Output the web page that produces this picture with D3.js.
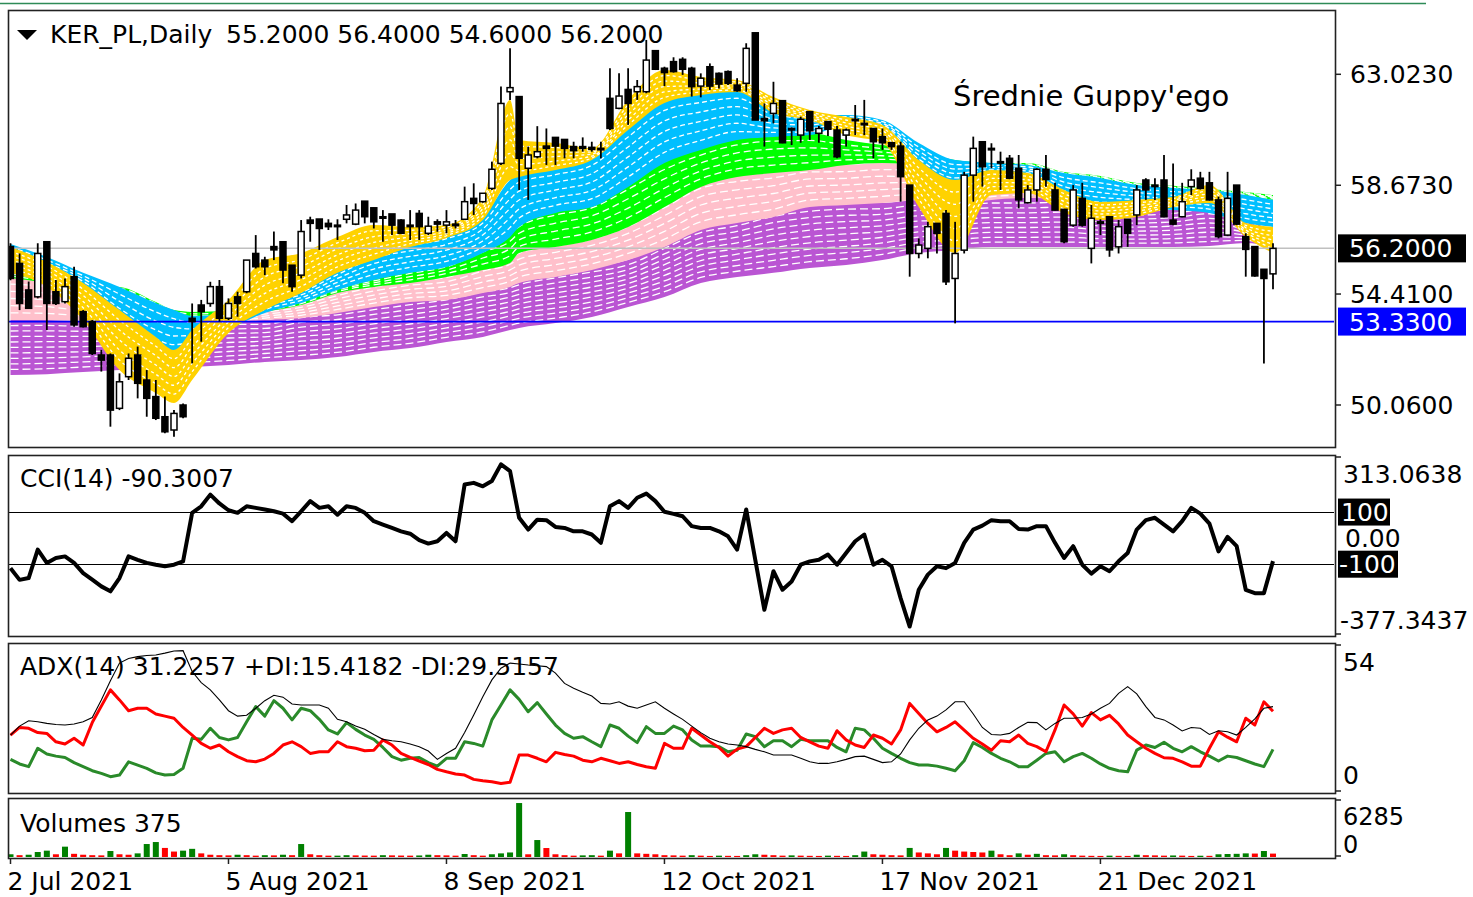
<!DOCTYPE html>
<html lang="en">
<head>
<meta charset="UTF-8">
<title>KER_PL Daily - Srednie Guppy'ego</title>
<script src="https://d3js.org/d3.v7.min.js"></script>
<style>
  body { margin: 0; background: #fff; }
  svg text { font-family: "DejaVu Sans", "Liberation Sans", Arial, sans-serif; fill: #000; }
</style>
</head>
<body>
<div class="chart"></div>
<script>
// ---- data (one entry per daily bar) ----
var open = [56.27,55.61,54.57,54.30,56.46,54.50,54.11,55.09,53.72,53.33,
  52.02,52.02,49.93,51.17,52.02,51.04,50.39,49.60,49.08,50.06,
  53.46,53.98,54.04,54.70,53.46,54.30,54.50,56.00,55.74,56.27,
  56.46,55.54,55.15,57.31,57.35,57.18,57.11,57.34,57.15,58.05,
  57.79,57.44,57.55,57.31,57.11,57.57,56.79,57.24,57.11,57.15,
  57.34,58.16,58.03,58.55,59.53,62.34,62.15,59.34,59.79,60.21,
  60.55,60.47,60.19,60.19,60.16,60.12,62.08,61.69,62.43,62.34,
  62.34,63.95,63.26,63.52,63.61,63.26,62.56,63.32,63.06,63.13,
  62.60,62.67,64.65,61.29,61.49,61.99,60.90,60.64,61.56,60.71,
  61.17,60.84,60.64,61.26,61.10,60.90,60.58,60.34,60.21,58.68,
  56.00,56.20,57.18,57.57,55.02,56.13,59.07,60.38,60.12,59.60,
  59.73,59.34,57.99,58.49,59.30,58.49,57.73,57.11,58.16,56.20,
  57.24,57.44,56.26,57.34,57.51,58.88,58.68,58.88,57.31,57.44,
  58.62,58.95,58.77,58.10,56.72,58.68,56.66,56.27,55.38,55.20];
var high = [56.40,56.00,54.90,56.40,56.46,54.96,55.02,55.48,53.78,53.39,
  52.22,52.08,51.30,52.08,52.35,51.43,51.04,50.39,49.86,50.12,
  54.04,54.18,54.89,54.96,54.24,54.50,55.74,56.72,55.87,56.86,
  56.46,55.54,57.31,57.44,57.35,57.34,57.34,57.90,57.96,58.05,
  57.79,57.70,57.55,57.34,57.70,57.70,57.44,57.34,57.70,57.31,
  58.62,58.75,58.36,59.60,62.54,64.04,62.15,60.19,60.99,60.90,
  60.55,60.47,60.38,60.55,60.38,60.38,63.26,63.06,63.26,62.80,
  64.37,63.95,63.32,63.69,63.69,63.32,63.06,63.45,63.09,63.17,
  62.87,64.24,64.65,61.88,62.73,61.99,60.94,61.36,61.56,61.00,
  61.17,61.00,60.90,61.82,62.02,60.90,60.90,60.38,60.38,58.68,
  56.59,57.24,57.18,57.70,57.24,59.20,60.58,60.38,60.32,59.99,
  59.86,59.86,58.68,59.34,59.86,58.77,57.73,58.68,58.77,57.90,
  57.34,57.44,57.31,57.34,58.68,58.95,58.95,59.86,59.53,58.77,
  59.30,59.20,59.20,58.23,59.20,58.68,56.79,56.27,55.38,56.40];
var low = [54.95,53.78,53.85,54.24,53.00,53.98,54.04,53.13,53.10,52.02,
  51.37,49.21,49.86,51.04,50.32,49.60,49.47,48.95,48.82,49.54,
  51.69,52.54,53.91,53.33,53.39,53.52,54.44,55.41,55.15,55.74,
  54.83,54.50,55.02,56.46,56.14,56.92,56.53,57.18,57.11,57.18,
  56.98,56.46,56.72,56.76,56.53,56.53,56.72,56.85,56.79,56.98,
  57.31,57.51,57.99,58.49,59.47,62.02,58.49,58.10,59.73,59.47,
  59.47,59.73,59.73,59.99,59.99,59.73,60.84,61.65,61.04,62.02,
  62.28,63.19,62.56,63.09,63.00,62.15,62.12,62.41,62.47,62.60,
  62.34,62.34,61.23,60.19,61.10,60.32,60.25,60.34,60.45,60.34,
  60.60,59.73,60.19,60.64,60.64,59.73,60.06,60.06,58.03,55.09,
  55.81,55.81,56.00,54.76,53.26,56.00,58.03,58.62,59.34,58.49,
  58.91,57.77,57.96,58.03,58.62,57.68,56.40,57.05,57.05,55.61,
  56.72,55.87,56.00,56.26,57.11,58.10,58.10,57.42,57.11,57.42,
  58.29,58.51,58.07,56.59,56.68,57.11,55.09,55.09,51.69,54.60];
var close = [55.02,54.04,53.85,56.00,54.04,54.04,54.70,53.20,53.13,52.08,
  51.82,49.86,50.97,51.89,50.91,50.32,49.54,49.01,49.73,49.60,
  53.33,53.72,54.70,53.46,54.04,54.04,55.74,55.48,55.48,56.14,
  55.35,54.70,56.86,57.18,56.98,57.05,57.05,57.51,57.70,57.44,
  57.24,57.38,57.11,56.79,57.05,57.05,57.07,57.15,57.24,57.11,
  58.03,57.96,58.36,59.30,61.88,62.50,59.73,59.86,59.99,60.12,
  60.21,60.12,60.03,60.12,60.08,60.06,60.90,62.17,61.88,62.54,
  63.58,63.22,63.09,63.13,63.22,62.54,62.87,62.56,62.64,62.67,
  62.38,64.04,61.23,61.20,61.88,60.34,60.84,61.26,60.81,60.90,
  60.87,59.79,60.84,61.23,61.07,60.38,60.34,60.19,59.01,56.00,
  56.33,57.05,56.79,54.89,56.00,59.07,60.12,59.40,60.08,59.56,
  58.95,58.10,58.49,59.30,58.90,57.70,56.46,58.49,57.11,57.38,
  57.18,56.14,57.05,56.79,58.49,58.49,58.64,57.44,57.15,58.03,
  58.88,58.55,58.10,56.66,58.16,57.15,56.16,55.12,55.02,56.20];
var volume = [300,200,250,550,700,300,1140,350,250,200,
  180,660,300,250,400,1430,1650,1000,600,700,
  900,400,250,200,180,250,200,150,200,180,
  250,200,1430,300,200,150,150,200,180,160,
  150,200,180,160,150,170,250,200,180,150,
  330,200,150,300,400,500,5950,300,1870,990,
  300,200,150,180,200,150,700,400,4960,400,
  350,300,200,180,150,200,150,120,150,130,
  120,200,300,250,200,150,180,150,130,120,
  150,130,120,200,600,300,250,200,180,1000,
  500,400,300,1000,700,600,550,500,700,300,
  200,400,250,350,200,180,300,200,150,130,
  120,150,130,120,250,200,180,150,170,150,
  120,140,130,300,330,350,400,380,660,375];
var cci = [-117,-162,-155,-46,-97,-78,-72,-97,-136,-161,
  -187,-206,-155,-72,-85,-97,-104,-110,-104,-91,
  95,120,165,131,105,95,120,114,108,101,
  92,63,101,140,114,120,88,120,114,95,
  63,50,37,24,15,-10,-23,-14,18,-14,
  204,210,197,217,281,255,76,31,69,67,
  41,37,24,24,12,-20,120,140,114,153,
  169,140,99,91,82,44,37,37,24,5,
  -46,108,-85,-277,-129,-200,-168,-104,-91,-85,
  -65,-104,-59,-14,12,-104,-85,-110,-232,-341,
  -200,-142,-110,-117,-97,-20,31,46,67,63,
  63,33,31,44,44,-20,-78,-33,-104,-138,
  -110,-129,-91,-59,31,67,76,50,24,63,
  114,92,54,-53,3,-33,-200,-213,-213,-90];
var adx = [20.7,24.0,26.0,25.6,25.0,24.6,24.4,24.8,25.6,27.2,
  33.7,40.8,47.3,49.0,49.7,50.1,50.3,51.0,51.8,51.9,
  44.2,40.1,37.4,33.7,29.7,27.7,28.0,30.6,33.4,35.4,
  34.7,32.2,31.8,31.8,31.8,30.6,26.5,25.6,24.0,22.8,
  20.9,19.1,18.6,18.2,17.4,16.4,14.8,11.7,13.9,15.8,
  21.6,28.1,34.9,41.1,45.4,47.3,47.0,46.6,46.3,46.0,
  43.6,39.8,38.0,36.5,35.1,32.4,32.2,33.0,31.4,30.6,
  31.8,33.0,30.6,28.5,26.5,24.0,21.6,19.5,18.2,17.4,
  17.0,16.4,15.4,14.5,13.3,13.3,13.3,12.1,10.8,10.2,
  10.2,10.8,11.7,12.7,12.9,11.7,10.5,10.8,13.7,18.9,
  23.2,26.3,27.7,30.0,33.0,33.0,28.5,23.5,20.9,20.7,
  21.3,23.5,25.4,25.3,22.6,25.0,26.9,26.9,27.2,28.5,
  30.6,32.4,36.1,38.6,35.9,31.2,27.2,26.3,24.4,22.2,
  23.5,23.2,20.9,22.3,21.9,20.7,23.5,26.7,30.6,31.2];
var plusDI = [11.7,10.0,9.0,15.8,13.7,12.9,12.4,10.5,9.0,7.5,
  6.5,5.3,5.9,10.8,9.6,8.4,6.7,5.9,6.1,8.4,
  19.5,19.1,23.2,19.8,18.9,19.8,25.6,31.2,27.7,33.4,
  30.6,26.3,30.6,29.7,26.5,22.6,21.1,25.3,22.8,20.7,
  19.1,16.1,12.7,11.4,12.1,12.4,10.5,9.2,12.1,12.1,
  18.2,17.6,16.6,26.3,31.8,37.4,33.9,29.3,32.7,28.5,
  24.4,21.3,19.5,20.1,18.2,16.4,24.4,23.2,20.3,17.9,
  23.8,21.3,21.3,24.0,22.6,18.9,16.6,16.6,16.4,14.5,
  15.1,21.1,20.1,16.4,18.6,18.6,16.4,19.1,18.6,18.6,
  18.6,16.1,14.5,23.2,22.6,19.5,15.8,13.9,12.1,10.5,
  9.6,9.6,9.2,8.4,7.5,11.2,17.9,16.1,13.9,12.1,
  10.8,9.0,9.0,11.4,13.9,14.5,10.8,12.7,13.9,12.1,
  10.0,8.4,7.5,7.1,15.1,17.0,16.1,18.0,15.8,14.5,
  16.4,14.5,12.9,11.1,12.9,12.4,11.2,10.0,9.0,15.4];
var minusDI = [20.7,23.5,23.2,21.6,21.3,18.2,17.4,19.5,17.0,25.3,
  31.4,37.4,33.7,29.7,30.6,30.6,28.5,27.7,26.9,23.5,
  20.7,17.6,15.8,17.0,14.5,12.7,11.2,10.8,11.8,13.9,
  17.0,18.2,16.4,13.9,14.5,14.5,18.2,16.4,15.8,14.9,
  15.1,18.9,17.0,13.9,12.4,11.1,9.8,8.0,7.1,6.3,
  5.9,4.3,3.8,3.4,2.8,3.2,13.3,13.3,12.1,10.8,
  14.3,13.5,12.9,11.4,10.8,12.1,11.2,10.2,10.8,9.8,
  9.0,8.4,17.6,15.8,15.8,23.2,20.7,18.2,16.1,12.9,
  15.5,16.4,19.8,23.2,21.3,22.6,23.2,19.8,18.2,16.6,
  15.8,22.3,18.9,17.0,16.1,20.7,19.5,17.4,22.6,32.4,
  28.7,25.0,21.9,23.5,25.6,22.5,19.5,17.4,15.1,18.6,
  18.2,20.7,17.6,16.4,14.5,22.6,31.8,28.5,24.0,29.0,
  26.3,28.0,24.8,20.7,18.2,15.8,13.9,12.3,12.1,10.8,
  9.2,9.2,15.8,21.9,19.9,18.2,26.9,24.4,33.0,29.5];

// Guppy ribbon: upper / lower edge of each colour group at sampled bars
var gIdx = [0,4,8,12,16,18,20,24,28,32,36,40,44,48,52,55,56,60,64,68,72,76,80,84,88,92,96,100,104,108,112,116,120,124,128,132,136,139];
var yellowHi = [56.25,55.67,54.84,53.78,52.73,52.22,53.00,54.18,55.74,56.02,56.65,57.12,57.04,57.12,58.21,62.02,60.45,60.33,60.13,62.02,63.19,62.92,62.80,62.13,61.62,61.35,61.04,59.66,58.88,59.27,59.15,58.49,58.02,58.10,58.21,58.68,57.19,57.04];
var yellowLo = [55.24,54.69,53.39,51.43,50.53,50.14,51.04,52.88,53.78,54.45,55.24,55.74,56.25,56.61,57.31,58.88,59.00,59.27,59.66,60.84,61.90,62.21,62.33,61.51,61.23,60.64,60.33,57.82,56.02,58.29,58.37,57.59,57.31,57.43,57.82,57.98,56.65,56.02];
var blueHi = [56.37,55.86,55.24,54.69,54.06,53.78,53.55,53.67,54.45,54.69,55.47,56.25,56.53,56.80,57.43,58.88,59.15,59.39,59.78,60.96,62.02,62.29,62.41,61.62,61.43,61.43,61.23,60.33,59.66,59.55,59.47,59.15,58.96,58.68,58.57,58.49,58.29,58.10];
var blueLo = [55.67,55.16,54.57,53.00,51.94,51.75,52.02,53.00,53.67,54.06,54.57,54.96,55.24,55.47,56.02,56.65,57.04,57.59,57.82,58.61,59.55,60.06,60.45,60.57,60.64,61.04,60.84,59.39,58.61,59.00,59.00,58.10,57.82,57.82,57.70,57.59,57.19,57.04];
var greenHi = [55.43,55.16,54.76,54.69,54.10,53.78,53.71,53.74,53.98,54.25,54.76,55.08,55.47,55.74,56.53,57.04,57.31,57.82,58.10,58.88,59.66,60.17,60.57,60.72,60.72,60.45,60.25,60.06,59.66,59.55,59.55,59.19,59.04,58.76,58.65,58.53,58.41,58.29];
var greenLo = [55.04,54.84,54.49,54.41,53.86,53.55,53.31,53.47,53.71,53.98,54.45,54.69,54.84,55.08,55.35,55.63,56.02,56.25,56.53,57.04,57.82,58.61,59.00,59.15,59.27,59.47,59.55,59.47,59.27,59.35,59.35,59.04,58.88,58.61,58.49,58.37,58.25,58.10];
var pinkHi = [55.08,54.96,54.57,54.41,53.86,53.63,53.47,53.71,53.86,54.10,54.49,54.84,55.08,55.24,55.74,56.02,56.25,56.53,56.80,57.31,58.10,58.88,59.15,59.27,59.47,59.47,59.55,59.47,58.61,58.88,58.88,58.49,58.29,58.10,57.90,57.90,57.70,57.51];
var pinkLo = [53.39,53.39,53.35,53.35,53.31,53.31,53.27,53.31,53.39,53.47,53.67,53.90,54.10,54.18,54.45,54.69,54.84,55.08,55.35,55.74,56.25,56.92,57.19,57.43,57.82,57.90,57.98,58.10,57.90,58.10,58.17,58.10,57.90,57.82,57.70,57.70,57.51,57.31];
var purpleHi = [53.39,53.39,53.35,53.35,53.31,53.31,53.31,53.39,53.39,53.67,53.78,53.98,54.18,54.37,54.69,54.84,54.96,55.24,55.47,55.74,56.41,57.04,57.31,57.70,57.90,57.98,57.98,58.10,58.10,58.17,58.17,58.21,57.90,57.82,57.90,58.10,57.43,56.80];
var purpleLo = [51.24,51.27,51.35,51.43,51.51,51.51,51.55,51.63,51.75,51.82,51.94,52.14,52.29,52.53,52.73,53.00,53.08,53.27,53.51,53.90,54.29,54.84,55.08,55.24,55.43,55.55,55.74,56.02,56.14,56.25,56.25,56.25,56.25,56.25,56.25,56.29,56.41,56.25];

var dateLabels = ["2 Jul 2021","5 Aug 2021","8 Sep 2021","12 Oct 2021","17 Nov 2021","21 Dec 2021"];
var dateIdx = [0,24,48,72,96,120];
var priceTicks = [63.023, 58.673, 54.41, 50.06];
var lastPrice = 56.2, levelPrice = 53.33;

[open, high, low, close, volume, cci, adx, plusDI, minusDI].forEach(function(a, k) {
  if (a.length !== 140) throw new Error("series " + k + " has " + a.length + " values");
});
[yellowHi, yellowLo, blueHi, blueLo, greenHi, greenLo, pinkHi, pinkLo, purpleHi, purpleLo].forEach(function(a, k) {
  if (a.length !== gIdx.length) throw new Error("band " + k + " has " + a.length + " values");
});

// ---- layout ----
var W = 1473, H = 897, FS = 25;
var left = 8, right = 1335;
var main = {top: 10, bottom: 447}, pCci = {top: 455, bottom: 636},
    pAdx = {top: 643, bottom: 793}, pVol = {top: 798, bottom: 858};

var svg = d3.select(".chart").append("svg")
    .attr("width", W).attr("height", H)
    .style("display", "block");

svg.append("rect").attr("width", W).attr("height", H).attr("fill", "#fff");

// thin green line across the very top
svg.append("line").attr("x1", 0).attr("x2", 1426).attr("y1", 3.5).attr("y2", 3.5)
    .attr("stroke", "#2e8b57").attr("stroke-width", 1.5);

var x = d3.scaleLinear().domain([0, 139]).range([10.5, 1273]);
var yMain = d3.scaleLinear().domain([50.06, 63.023]).range([405, 74.3]);
var yCci = d3.scaleLinear().domain([-377.3437, 313.0638]).range([636, 456]);
var yAdx = d3.scaleLinear().domain([0, 54]).range([791, 645]);
var yVol = d3.scaleLinear().domain([0, 6285]).range([857, 800]);

function clip(id, p) {
  svg.append("clipPath").attr("id", id).append("rect")
      .attr("x", left + 1).attr("y", p.top + 1)
      .attr("width", right - left - 2).attr("height", p.bottom - p.top - 2);
}
clip("cMain", main); clip("cCci", pCci); clip("cAdx", pAdx); clip("cVol", pVol);

// ---- main panel: Guppy ribbon ----
var gMain = svg.append("g").attr("clip-path", "url(#cMain)");

var groups = [
  {color: "#ba55d3", hi: purpleHi, lo: purpleLo, n: 9, dash: "8,4"},
  {color: "#ffc0cb", hi: pinkHi, lo: pinkLo, n: 5, dash: "8,4"},
  {color: "#00ff00", hi: greenHi, lo: greenLo, n: 4, dash: "7,4"},
  {color: "#00bfff", hi: blueHi, lo: blueLo, n: 5, dash: "5,3"},
  {color: "#ffd200", hi: yellowHi, lo: yellowLo, n: 5, dash: "3,3"}
];

groups.forEach(function(g) {
  var area = d3.area()
      .x(function(d, i) { return x(gIdx[i]); })
      .y0(function(d, i) { return yMain(g.lo[i]); })
      .y1(function(d, i) { return yMain(g.hi[i]); })
      .curve(d3.curveMonotoneX);
  gMain.append("path").datum(gIdx)
      .attr("d", area)
      .attr("fill", g.color);
  for (var k = 1; k <= g.n; k++) {
    var f = k / (g.n + 1);
    var line = d3.line()
        .x(function(d, i) { return x(gIdx[i]); })
        .y(function(d, i) { return yMain(g.hi[i] + (g.lo[i] - g.hi[i]) * f); })
        .curve(d3.curveMonotoneX);
    gMain.append("path").datum(gIdx)
        .attr("d", line)
        .attr("fill", "none")
        .attr("stroke", "#fff")
        .attr("stroke-width", 1.3)
        .attr("stroke-dasharray", g.dash);
  }
});

// current price line and horizontal level
gMain.append("line").attr("x1", left).attr("x2", right)
    .attr("y1", yMain(lastPrice)).attr("y2", yMain(lastPrice))
    .attr("stroke", "#c0c0c0").attr("stroke-width", 1.5);
gMain.append("line").attr("x1", left).attr("x2", right)
    .attr("y1", yMain(levelPrice)).attr("y2", yMain(levelPrice))
    .attr("stroke", "#0000ff").attr("stroke-width", 1.6);

// candles
var bars = d3.range(open.length);
var candle = gMain.selectAll(".candle").data(bars).enter().append("g").attr("class", "candle");
candle.append("line")
    .attr("x1", function(i) { return x(i); }).attr("x2", function(i) { return x(i); })
    .attr("y1", function(i) { return yMain(high[i]); })
    .attr("y2", function(i) { return yMain(low[i]); })
    .attr("stroke", "#000").attr("stroke-width", 1.8);
candle.append("rect")
    .attr("x", function(i) { return x(i) - 3; })
    .attr("width", 6)
    .attr("y", function(i) { return yMain(Math.max(open[i], close[i])); })
    .attr("height", function(i) { return Math.max(1.5, Math.abs(yMain(open[i]) - yMain(close[i]))); })
    .attr("fill", function(i) { return close[i] >= open[i] ? "#fff" : "#000"; })
    .attr("stroke", "#000").attr("stroke-width", 1.5);

// titles in main panel
svg.append("path").attr("d", "M17,30 L37,30 L27,40 Z").attr("fill", "#000");
svg.append("text").attr("x", 50).attr("y", 43).style("font-size", FS + "px").text("KER_PL,Daily");
svg.append("text").attr("x", 226).attr("y", 43).style("font-size", FS + "px")
    .text([open[139], high[139], low[139], close[139]].map(function(v) { return v.toFixed(4); }).join(" "));
svg.append("text").attr("x", 953).attr("y", 106).style("font-size", "29px").text("Średnie Guppy'ego");

// ---- CCI panel ----
var gCci = svg.append("g").attr("clip-path", "url(#cCci)");
[100, -100].forEach(function(v) {
  gCci.append("line").attr("x1", left).attr("x2", right)
      .attr("y1", Math.round(yCci(v)) + 0.5).attr("y2", Math.round(yCci(v)) + 0.5)
      .attr("stroke", "#000").attr("stroke-width", 1.2);
});
gCci.append("path").datum(cci)
    .attr("d", d3.line().x(function(d, i) { return x(i); }).y(function(d) { return yCci(d); }))
    .attr("fill", "none").attr("stroke", "#000").attr("stroke-width", 4)
    .attr("stroke-linejoin", "round");
svg.append("text").attr("x", 20).attr("y", 487).style("font-size", FS + "px")
    .text("CCI(14) -90.3007");

// ---- ADX panel ----
var gAdx = svg.append("g").attr("clip-path", "url(#cAdx)");
svg.append("text").attr("x", 20).attr("y", 675).style("font-size", FS + "px")
    .text("ADX(14) 31.2257 +DI:15.4182 -DI:29.5157");
var adxLine = d3.line().x(function(d, i) { return x(i); }).y(function(d) { return yAdx(d); });
gAdx.append("path").datum(plusDI).attr("d", adxLine)
    .attr("fill", "none").attr("stroke", "#2a8a2a").attr("stroke-width", 3).attr("stroke-linejoin", "round");
gAdx.append("path").datum(minusDI).attr("d", adxLine)
    .attr("fill", "none").attr("stroke", "#ff0000").attr("stroke-width", 3).attr("stroke-linejoin", "round");
gAdx.append("path").datum(adx).attr("d", adxLine)
    .attr("fill", "none").attr("stroke", "#000").attr("stroke-width", 1.1);

// ---- Volumes panel ----
var gVol = svg.append("g").attr("clip-path", "url(#cVol)");
gVol.selectAll("rect.vol").data(volume).enter().append("rect")
    .attr("class", "vol")
    .attr("x", function(d, i) { return x(i) - 3; })
    .attr("width", 6)
    .attr("y", function(d) { return yVol(d); })
    .attr("height", function(d) { return yVol(0) - yVol(d); })
    .attr("fill", function(d, i) { return i > 0 && d < volume[i - 1] ? "#ff0000" : "#008000"; });
svg.append("text").attr("x", 20).attr("y", 832).style("font-size", FS + "px").text("Volumes " + volume[139]);

// ---- frames ----
[main, pCci, pAdx, pVol].forEach(function(p) {
  svg.append("rect")
      .attr("x", left + 0.5).attr("y", p.top + 0.5)
      .attr("width", right - left).attr("height", p.bottom - p.top)
      .attr("fill", "none").attr("stroke", "#222").attr("stroke-width", 1.6);
});

// ---- right-hand axes ----
function tick(y) {
  svg.append("line").attr("x1", right).attr("x2", right + 6).attr("y1", y).attr("y2", y)
      .attr("stroke", "#222").attr("stroke-width", 1.5);
}
function label(txt, xx, y, size) {
  return svg.append("text").attr("x", xx).attr("y", y).style("font-size", (size || FS) + "px").text(txt);
}
function box(txt, y, w, fill) {
  svg.append("rect").attr("x", right + 3).attr("y", y - 14).attr("width", w).attr("height", 28).attr("fill", fill);
  label(txt, right + 14, y + 9).style("fill", "#fff");
}

priceTicks.forEach(function(v) {
  tick(yMain(v));
  label(v.toFixed(4), 1350, yMain(v) + 9);
});
box(lastPrice.toFixed(4), yMain(lastPrice), 128, "#000");
box(levelPrice.toFixed(4), yMain(levelPrice), 128, "#0000ff");

label("313.0638", 1343, 483);
label("0.00", 1345, yCci(0) + 9);
svg.append("rect").attr("x", right + 3).attr("y", yCci(100) - 13).attr("width", 52).attr("height", 27).attr("fill", "#000");
label("100", 1341, yCci(100) + 9).style("fill", "#fff");
svg.append("rect").attr("x", right + 3).attr("y", yCci(-100) - 13).attr("width", 60).attr("height", 27).attr("fill", "#000");
label("-100", 1339, yCci(-100) + 9).style("fill", "#fff");
label("-377.3437", 1340, 629);
tick(pCci.top + 2); tick(pCci.bottom - 2);

label("54", 1343, 671);
label("0", 1343, 784);
tick(pAdx.top + 2); tick(pAdx.bottom - 2);

label("6285", 1343, 825, 24);
label("0", 1343, 853, 24);
tick(pVol.top + 2); tick(pVol.bottom - 2);

// ---- date axis ----
dateIdx.forEach(function(idx, k) {
  svg.append("line").attr("x1", x(idx)).attr("x2", x(idx))
      .attr("y1", pVol.bottom).attr("y2", pVol.bottom + 6)
      .attr("stroke", "#222").attr("stroke-width", 1.5);
  label(dateLabels[k], x(idx) - 3, 890);
});
</script>
</body>
</html>
